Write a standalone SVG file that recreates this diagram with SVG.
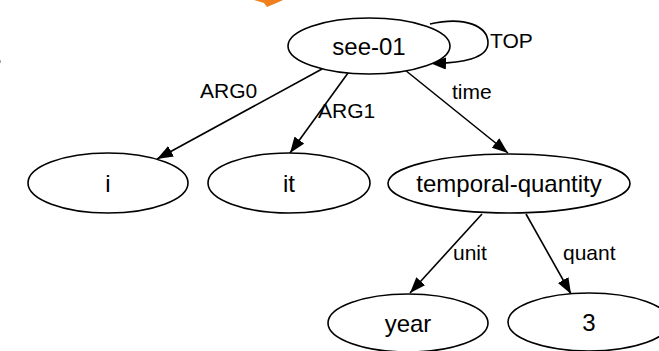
<svg xmlns="http://www.w3.org/2000/svg" width="659" height="351" viewBox="0 0 659 351">
<style>
.node ellipse{fill:#fff;stroke:#000;stroke-width:1.6}
.nl{font-family:"Liberation Sans",Arial,sans-serif;font-size:24px;fill:#000;text-anchor:middle}
.el{font-family:"Liberation Sans",Arial,sans-serif;font-size:21px;fill:#000}
.edge{fill:none;stroke:#000;stroke-width:1.6;marker-end:url(#ah)}
</style>
<defs>
<marker id="ah" markerUnits="userSpaceOnUse" markerWidth="18" markerHeight="14" refX="16" refY="6" orient="auto">
<path d="M0,0 L16,6 L0,12 z" fill="#000"/>
</marker>
</defs>
<rect width="659" height="351" fill="#fff"/>
<polygon points="254,0 283,0 281,1 267,7 264,3" fill="#F07F1E"/>
<rect x="0" y="60" width="1" height="3" fill="#aaa"/>
<g id="connectors">
<path class="edge" d="M430,24 C465,16 488,26 488,43 C488,58 462,64 430,63"/>
<line class="edge" x1="322" y1="69" x2="157" y2="159"/>
<line class="edge" x1="348" y1="73" x2="290" y2="153"/>
<line class="edge" x1="405" y1="70" x2="508" y2="153"/>
<line class="edge" x1="482" y1="214" x2="410" y2="293"/>
<line class="edge" x1="526" y1="214" x2="571" y2="294"/>
<text class="el" x="490" y="48">TOP</text>
<text class="el" x="200" y="98">ARG0</text>
<text class="el" x="318" y="118">ARG1</text>
<text class="el" x="452" y="99">time</text>
<text class="el" x="453" y="260">unit</text>
<text class="el" x="563" y="260">quant</text>
</g>
<g id="n-see01" class="node"><ellipse cx="369" cy="46" rx="81" ry="28"/><text class="nl" x="369" y="55">see-01</text></g>
<g id="n-i" class="node"><ellipse cx="108" cy="183" rx="80" ry="30"/><text class="nl" x="108" y="192">i</text></g>
<g id="n-it" class="node"><ellipse cx="289" cy="183" rx="81" ry="30"/><text class="nl" x="289" y="192">it</text></g>
<g id="n-tq" class="node"><ellipse cx="509" cy="183.5" rx="121" ry="29.5"/><text class="nl" x="509" y="192">temporal-quantity</text></g>
<g id="n-year" class="node"><ellipse cx="408" cy="323" rx="80" ry="29"/><text class="nl" x="408" y="332">year</text></g>
<g id="n-3" class="node"><ellipse cx="589" cy="322" rx="81" ry="29"/><text class="nl" x="589" y="331">3</text></g>
</svg>
